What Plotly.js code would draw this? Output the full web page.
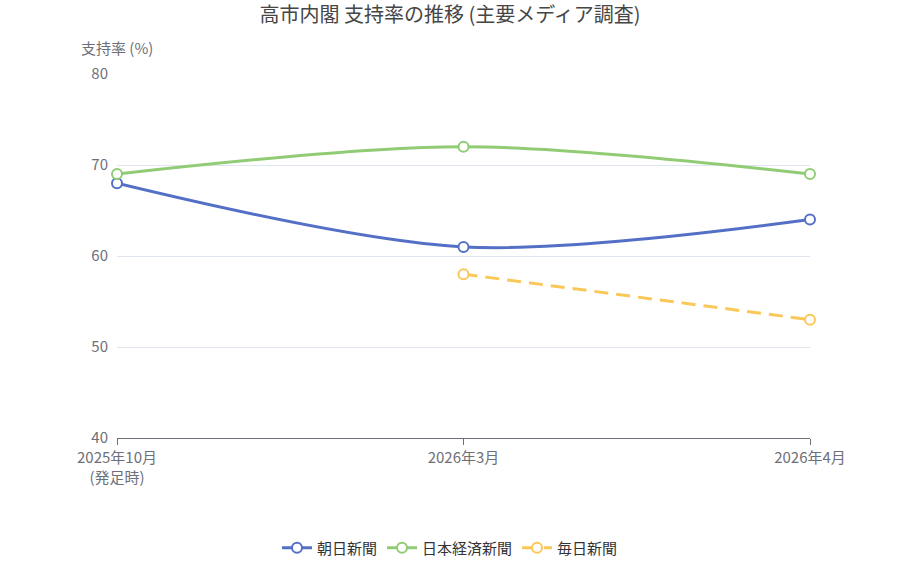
<!DOCTYPE html>
<html>
<head>
<meta charset="utf-8">
<script src="https://cdn.plot.ly/plotly-3.0.1.min.js"></script>
<style>
  html, body { margin: 0; padding: 0; background: #fff; }
  #chart { width: 900px; height: 562px; }
</style>
</head>
<body>
<div id="chart"></div>
<script>
var periods = ['2025年10月<br>(発足時)', '2026年3月', '2026年4月'];
var asahi = [68, 61, 64];
var nikkei = [69, 72, 69];
var mainichi = [null, 58, 53];

var font = '"Noto Sans CJK JP", "Noto Sans", sans-serif';

function series(name, values, color, dash) {
  return {
    x: periods,
    y: values,
    name: name,
    type: 'scatter',
    mode: 'lines+markers',
    line: { color: color, width: 3, shape: dash ? 'linear' : 'spline', smoothing: 0.9, dash: dash ? '14px,8px' : 'solid' },
    marker: { size: 10, color: '#fff', line: { color: color, width: 2 } },
    connectgaps: false,
    cliponaxis: false
  };
}

var data = [
  series('朝日新聞', asahi, '#5470c6', false),
  series('日本経済新聞', nikkei, '#91cc75', false),
  series('毎日新聞', mainichi, '#fac858', true)
];

var layout = {
  width: 900,
  height: 562,
  margin: { l: 117, r: 90, t: 74, b: 124, autoexpand: false },
  paper_bgcolor: '#fff',
  plot_bgcolor: '#fff',
  font: { family: font, size: 15, color: '#6e7079' },
  title: {
    text: '高市内閣 支持率の推移 (主要メディア調査)',
    font: { family: font, size: 20, color: '#464646' },
    x: 0.5, xanchor: 'center', y: 0.973, yanchor: 'middle'
  },
  xaxis: {
    type: 'category',
    range: [0, 2],
    showgrid: false,
    showline: true,
    linecolor: '#6e7079',
    linewidth: 1,
    ticks: 'outside',
    ticklen: 6,
    tickcolor: '#6e7079',
    zeroline: false,
    tickfont: { size: 15, color: '#6e7079' }
  },
  yaxis: {
    range: [40, 80],
    dtick: 10,
    showgrid: true,
    gridcolor: '#e0e6f1',
    showline: false,
    zeroline: false,
    ticks: '',
    ticklabelstandoff: 8,
    tickfont: { size: 15, color: '#6e7079' }
  },
  annotations: [{
    text: '支持率 (%)',
    xref: 'paper', yref: 'paper',
    x: 0, y: 1, xanchor: 'center', yanchor: 'middle', yshift: 27,
    showarrow: false,
    font: { size: 15, color: '#6e7079' }
  }],
  showlegend: true,
  legend: {
    orientation: 'h',
    xref: 'container', yref: 'container',
    x: 0.5, xanchor: 'center',
    y: 0.025, yanchor: 'middle',
    font: { size: 15, color: '#333' },
    itemwidth: 30
  }
};

Plotly.newPlot('chart', data, layout, { displayModeBar: false });
</script>
</body>
</html>
